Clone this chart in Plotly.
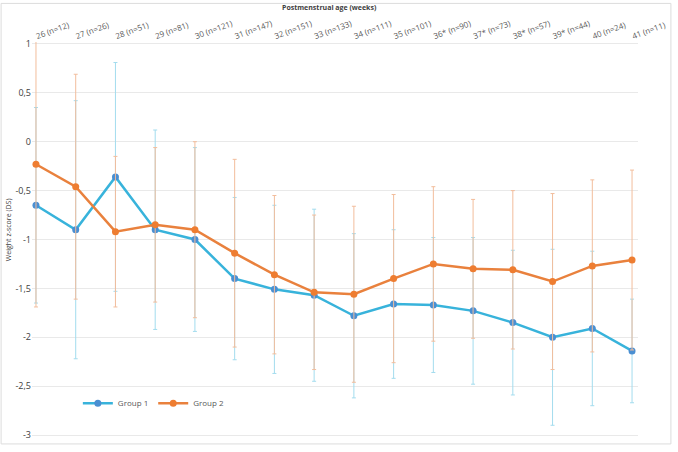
import plotly.graph_objects as go

categories = ["26 (n=12)", "27 (n=26)", "28 (n=51)", "29 (n=81)", "30 (n=121)", "31 (n=147)",
              "32 (n=151)", "33 (n=133)", "34 (n=111)", "35 (n=101)", "36* (n=90)", "37* (n=73)",
              "38* (n=57)", "39* (n=44)", "40 (n=24)", "41 (n=11)"]
group1 = [-0.65, -0.90, -0.36, -0.90, -1.00, -1.40, -1.51, -1.57, -1.78, -1.66, -1.67, -1.73, -1.85, -2.00, -1.91, -2.14]
group1_err = [1.00, 1.32, 1.17, 1.02, 0.94, 0.83, 0.86, 0.88, 0.84, 0.76, 0.69, 0.75, 0.74, 0.90, 0.79, 0.53]
group2 = [-0.23, -0.46, -0.92, -0.85, -0.90, -1.14, -1.36, -1.54, -1.56, -1.40, -1.25, -1.30, -1.31, -1.43, -1.27, -1.21]
group2_err = [1.46, 1.15, 0.77, 0.79, 0.90, 0.96, 0.81, 0.79, 0.90, 0.86, 0.79, 0.71, 0.81, 0.90, 0.88, 0.92]
y_ticks = [1, 0.5, 0, -0.5, -1, -1.5, -2, -2.5, -3]
y_ticktext = ["1", "0,5", "0", "-0,5", "-1", "-1,5", "-2", "-2,5", "-3"]

FONT = "Open Sans"
fig = go.Figure()
fig.add_trace(go.Scatter(
    x=categories, y=group1, name="Group 1", mode="lines+markers",
    line=dict(color="#38b3db", width=2.5),
    marker=dict(color="#4a8fd2", size=7),
    error_y=dict(type="data", array=group1_err, color="#a3dcee", thickness=1, width=2),
))
fig.add_trace(go.Scatter(
    x=categories, y=group2, name="Group 2", mode="lines+markers",
    line=dict(color="#e9813d", width=2.5),
    marker=dict(color="#ee7d31", size=7),
    error_y=dict(type="data", array=group2_err, color="#f2bd9c", thickness=1, width=2),
))

W, H = 678, 452
L, R, T, B = 32, 38, 42, 11
pw = W - L - R
ph = H - T - B

def px_x(p):
    return (p - L) / pw

def px_y(p):
    return (H - B - p) / ph

fig.update_layout(
    width=W, height=H,
    margin=dict(l=L, r=R, t=T, b=B),
    paper_bgcolor="white", plot_bgcolor="white",
    font=dict(family=FONT, size=8, color="#595959"),
    showlegend=True,
    legend=dict(orientation="h", x=px_x(78), y=px_y(407), xanchor="left", yanchor="middle",
                font=dict(size=8, color="#595959"), bgcolor="rgba(0,0,0,0)", itemwidth=30),
    xaxis=dict(type="category", side="top", range=[-0.1, 15.15], tickangle=-20,
               showgrid=False, zeroline=False, showline=False, ticks="",
               tickfont=dict(size=8, color="#595959")),
    yaxis=dict(range=[-3.02, 1.02], tickvals=y_ticks, ticktext=y_ticktext,
               showgrid=True, gridcolor="#e9e9e9", gridwidth=1, zeroline=False, showline=False,
               ticks="", tickfont=dict(size=9, color="#404040")),
    annotations=[
        dict(text="<b>Postmenstrual age (weeks)</b>", xref="paper", yref="paper",
             x=px_x(330), y=px_y(7), xanchor="center", yanchor="middle", showarrow=False,
             font=dict(size=7, color="#404040")),
        dict(text="Weight z-score (DS)", xref="paper", yref="paper", textangle=-90,
             x=px_x(8), y=px_y(232), xanchor="center", yanchor="middle", showarrow=False,
             font=dict(size=7, color="#404040")),
    ],
    shapes=[dict(type="rect", xref="paper", yref="paper",
                 x0=px_x(1), x1=px_x(673), y0=px_y(448), y1=px_y(3),
                 line=dict(color="#dcdcdc", width=1), fillcolor="rgba(0,0,0,0)", layer="below")],
)

fig.write_html("out.html")
